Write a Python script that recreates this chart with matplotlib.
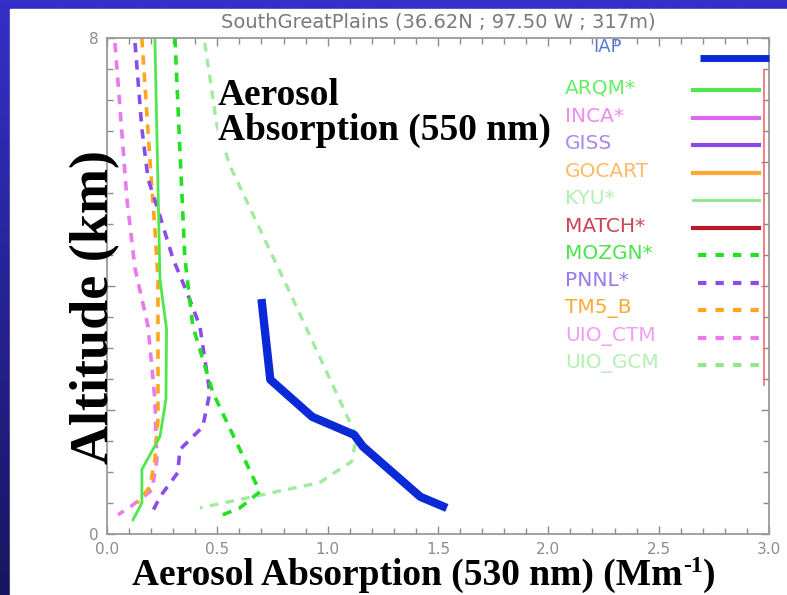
import numpy as np
import matplotlib
matplotlib.use("Agg")
import matplotlib.pyplot as plt
from matplotlib.patches import Rectangle

# ---------------- data: absorption (Mm-1) vs altitude (km) ----------------
iap_x = [0.70, 0.74, 0.93, 1.12, 1.16, 1.42, 1.54]
iap_y = [3.79, 2.49, 1.89, 1.60, 1.41, 0.60, 0.42]

arqm_x = [0.217, 0.24, 0.27, 0.267, 0.24, 0.158, 0.158, 0.118]
arqm_y = [8.0, 4.11, 3.30, 2.17, 1.57, 1.04, 0.50, 0.23]

mozgn_x = [0.308, 0.330, 0.353, 0.389, 0.480, 0.661, 0.692, 0.602, 0.525]
mozgn_y = [8.0, 6.22, 4.44, 3.35, 2.28, 0.92, 0.68, 0.42, 0.31]

pnnl_x = [0.127, 0.158, 0.186, 0.240, 0.299, 0.362, 0.421, 0.466, 0.434, 0.330, 0.321, 0.240, 0.195]
pnnl_y = [7.92, 6.54, 5.73, 5.13, 4.44, 3.90, 3.35, 2.28, 1.73, 1.36, 0.99, 0.60, 0.28]

tm5_x = [0.158, 0.195, 0.217, 0.231, 0.231, 0.217, 0.195, 0.136]
tm5_y = [8.0, 6.01, 4.92, 4.11, 1.85, 1.20, 0.76, 0.50]

uioctm_x = [0.036, 0.059, 0.090, 0.127, 0.186, 0.217, 0.226, 0.204, 0.118, 0.050]
uioctm_y = [7.92, 6.87, 5.41, 4.28, 3.35, 2.17, 1.20, 0.71, 0.47, 0.31]

uiogcm_x = [0.443, 0.498, 0.557, 0.828, 1.131, 1.109, 0.964, 0.421]
uiogcm_y = [7.92, 6.59, 5.94, 3.90, 1.57, 1.17, 0.83, 0.42]

models = ["ARQM*", "INCA*", "GISS", "GOCART", "KYU*", "MATCH*",
          "MOZGN*", "PNNL*", "TM5_B", "UIO_CTM", "UIO_GCM"]

x_ticks = [0.0, 0.5, 1.0, 1.5, 2.0, 2.5, 3.0]
x_ticklabels = ["0.0", "0.5", "1.0", "1.5", "2.0", "2.5", "3.0"]
y_ticks = [0, 2, 4, 6, 8]
y_ticklabels = ["0", "", "", "", "8"]

# ---------------- styles ----------------
line_color = {
    "ARQM*": "#4ee84e", "INCA*": "#dd66ee", "GISS": "#8a48ee",
    "GOCART": "#ffa733", "KYU*": "#86ea86", "MATCH*": "#b81a2a",
    "MOZGN*": "#22e022", "PNNL*": "#8a4cea", "TM5_B": "#ffa51e",
    "UIO_CTM": "#ea78ee", "UIO_GCM": "#8fe88f",
}
text_color = {
    "ARQM*": "#66ee66", "INCA*": "#ee8cf0", "GISS": "#a98af0",
    "GOCART": "#ffba6a", "KYU*": "#b0f0b0", "MATCH*": "#cc4455",
    "MOZGN*": "#4ce44c", "PNNL*": "#9a78f0", "TM5_B": "#ffaa38",
    "UIO_CTM": "#f0a0f0", "UIO_GCM": "#b4f0b4",
}
dashed = {"MOZGN*", "PNNL*", "TM5_B", "UIO_CTM", "UIO_GCM"}
line_width = {"KYU*": 2.0}

W, H = 787, 595
fig = plt.figure(figsize=(W / 100, H / 100), dpi=100)

# slide background with white panel
bg = fig.add_axes([0, 0, 1, 1], zorder=-10)
g = np.linspace(0, 1, 256)[:, None, None]
c_top = np.array([0x34, 0x30, 0xc8]) / 255
c_bot = np.array([0x18, 0x16, 0x60]) / 255
bg.imshow(c_top * (1 - g) + c_bot * g, extent=[0, 1, 0, 1], aspect='auto')
bg.add_patch(Rectangle((10 / W, 0), 1, 1 - 9 / H, color='white'))
bg.set_xlim(0, 1)
bg.set_ylim(0, 1)
bg.axis('off')

ax = fig.add_axes([107 / W, 1 - 534 / H, (769 - 107) / W, (534 - 38) / H])
ax.set_facecolor('none')

dash = (0, (2.6, 2.2))
ax.plot(uiogcm_x, uiogcm_y, color=line_color["UIO_GCM"], lw=2.4, ls=dash, alpha=0.85)
ax.plot(uioctm_x, uioctm_y, color=line_color["UIO_CTM"], lw=2.6, ls=dash)
ax.plot(tm5_x, tm5_y, color=line_color["TM5_B"], lw=2.6, ls=dash)
ax.plot(pnnl_x, pnnl_y, color=line_color["PNNL*"], lw=2.6, ls=dash)
ax.plot(mozgn_x, mozgn_y, color=line_color["MOZGN*"], lw=2.6, ls=dash)
ax.plot(arqm_x, arqm_y, color=line_color["ARQM*"], lw=2.0)
ax.plot(iap_x, iap_y, color="#0a2ad8", lw=6.0, solid_capstyle='butt')

ax.set_xlim(0, 3)
ax.set_ylim(0, 8)
gray = "#8c8c8c"
for s in ax.spines.values():
    s.set_color("#9a9a9a")
    s.set_linewidth(1.3)
ax.set_xticks(x_ticks)
ax.set_xticklabels(x_ticklabels)
ax.set_yticks(y_ticks)
ax.set_yticklabels(y_ticklabels)
ax.set_xticks(np.arange(0, 3.01, 0.1), minor=True)
ax.set_yticks(np.arange(0, 8.01, 0.5), minor=True)
ax.tick_params(which='both', direction='in', top=True, right=True,
               color="#8a8a8a", width=1.0, labelcolor=gray, labelsize=11)
ax.tick_params(which='major', length=6, pad=6)
ax.tick_params(which='minor', length=4)

fig.text(438 / W, 1 - 22 / H, "SouthGreatPlains (36.62N ; 97.50 W ; 317m)",
         ha='center', va='center', color="#7a7a7a", fontsize=14)

# legend
fig.text(593 / W, 1 - 47 / H, "IAP", color="#5a78d0", fontsize=13,
         ha='left', va='center')
fig.add_artist(plt.Line2D([700 / W, 769 / W], [1 - 58 / H, 1 - 58 / H],
                          color="#0a2ad8", lw=5.0, solid_capstyle='butt'))
for i, name in enumerate(models):
    yy = 1 - (90 + i * 27.5) / H
    fig.text(565 / W, yy + 1.5 / H, name, color=text_color[name], fontsize=14.5,
             ha='left', va='center')
    x0 = 698 if name in dashed else 693
    fig.add_artist(plt.Line2D([x0 / W, 759 / W], [yy, yy],
                              color=line_color[name],
                              lw=line_width.get(name, 3.0),
                              ls=(0, (2.0, 2.2)) if name in dashed else '-'))
fig.add_artist(plt.Line2D([764 / W, 764 / W], [1 - 70 / H, 1 - 385 / H],
                          color="#f06a6a", lw=1.2))

# overlaid slide annotations
serif = dict(family="Liberation Serif", weight="bold", color="black")
white_box = dict(facecolor='white', edgecolor='none', pad=0)
fig.text(95 / W, 1 - 307 / H, "Altitude (km)", rotation=90, ha='center',
         va='center', fontsize=39, **serif)
fig.text(218 / W, 1 - 78 / H, "Aerosol\nAbsorption (550 nm)", ha='left',
         va='top', fontsize=27, linespacing=1.0, bbox=white_box, **serif)

# bottom axis caption built from pieces so the superscript stays compact
renderer = fig.canvas.get_renderer()
base_y = 1 - 585 / H
parts = [("Aerosol Absorption (530 nm) (Mm", 27, 0.0),
         ("-1", 17, 13.0),
         (")", 27, 0.0)]
texts = []
for s, fs, dy in parts:
    t = fig.text(0, base_y + dy / H, s, ha='left', va='baseline', fontsize=fs,
                 bbox=white_box, **serif)
    texts.append(t)
widths = [t.get_window_extent(renderer).width for t in texts]
x = 423.5 - sum(widths) / 2
for t, w in zip(texts, widths):
    t.set_x(x / W)
    x += w

fig.savefig("out.png", dpi=100)
